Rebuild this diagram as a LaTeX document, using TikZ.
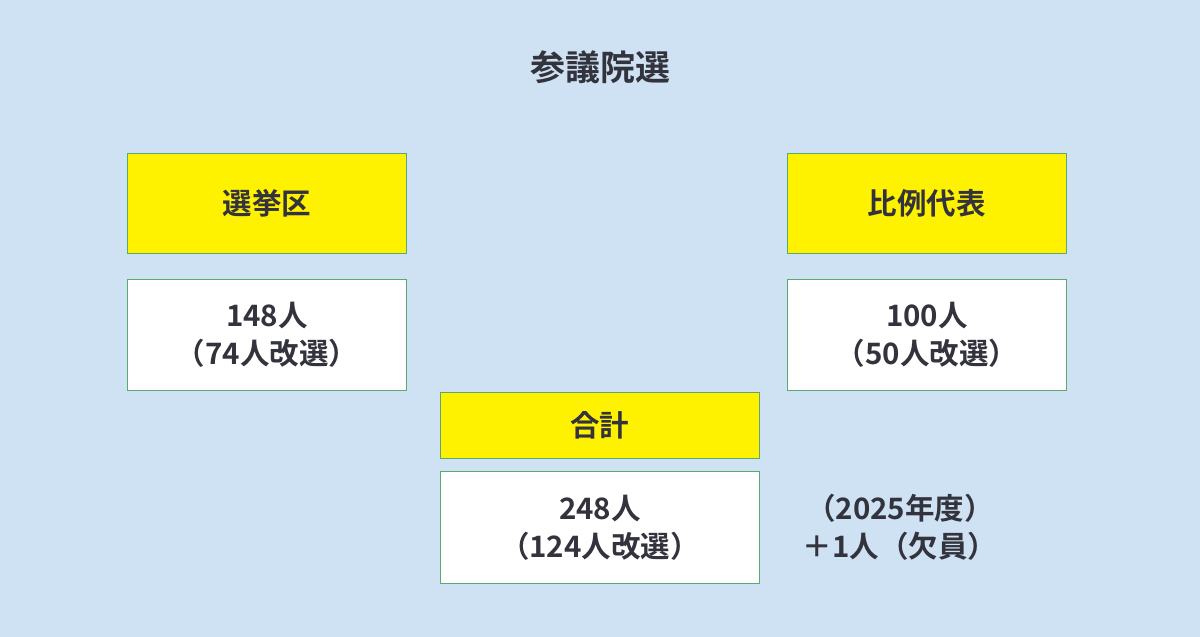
\documentclass[tikz,border=0pt]{standalone}
\usepackage{fontspec}
\newfontfamily\jp{Noto Sans CJK JP Bold}
\definecolor{bg}{RGB}{207,226,243}
\definecolor{ink}{RGB}{51,51,61}
\definecolor{edge}{RGB}{90,170,110}
\tikzset{
 ybox/.style={draw=edge,line width=0.8pt,fill=yellow,minimum width=279pt,anchor=north west,text=ink,font=\jp\fontsize{29.5}{38}\selectfont,inner sep=0pt},
 wbox/.style={draw=edge,line width=0.8pt,fill=white,minimum width=279pt,anchor=north west,text=ink,font=\jp\fontsize{29.5}{38}\selectfont,align=center,inner sep=0pt},
 txt/.style={text=ink,font=\jp\fontsize{29.5}{38}\selectfont,align=center}
}
\begin{document}
\begin{tikzpicture}[x=1pt,y=-1pt]
\fill[bg] (0,0) rectangle (1200,637);
\useasboundingbox (0,0) rectangle (1200,637);
\node[txt,font=\jp\fontsize{35}{40}\selectfont] (title) at (600,67) {参議院選};
\node[ybox,minimum height=100pt] (a) at (127,153) {選挙区};
\node[wbox,minimum height=111pt] (b) at (127,279) {148人\\（74人改選）};
\node[ybox,minimum height=100pt] (c) at (787,153) {比例代表};
\node[wbox,minimum height=111pt] (d) at (787,279) {100人\\（50人改選）};
\node[ybox,minimum width=319pt,minimum height=66pt] (e) at (440,392) {合計};
\node[wbox,minimum width=319pt,minimum height=112pt] (f) at (440,471) {248人\\（124人改選）};
\node[txt] (g) at (900,527) {（2025年度）\\＋1人（欠員）};
\end{tikzpicture}
\end{document}
